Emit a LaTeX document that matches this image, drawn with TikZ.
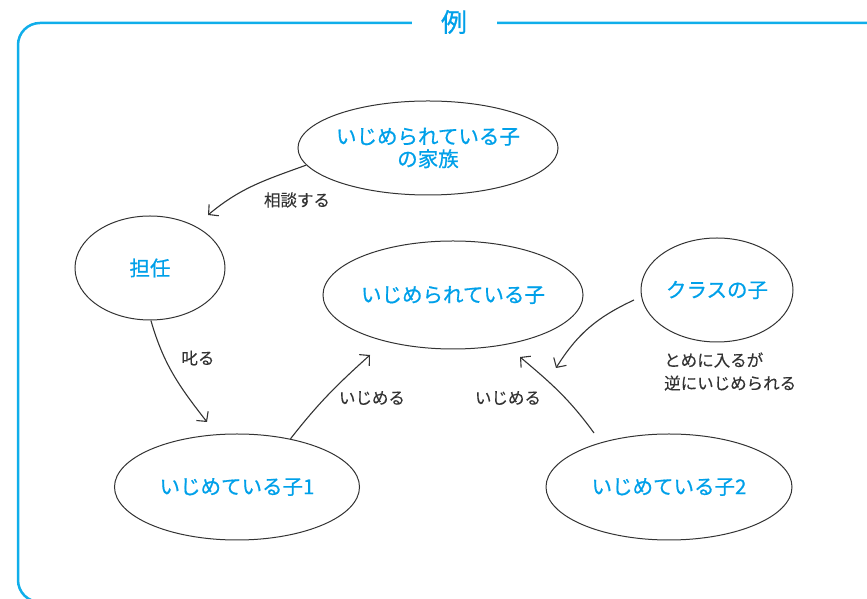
\documentclass[tikz,border=0pt]{standalone}
\usepackage{fontspec}
\setmainfont{Noto Sans CJK JP}
\newfontfamily\jpmed{Noto Sans CJK JP}[FakeBold=0.7]
\newfontfamily\jplab{Noto Sans CJK JP}[FakeBold=0.25]
\usetikzlibrary{shapes.geometric,arrows.meta,calc}
\definecolor{jblue}{HTML}{00A0E9}
\definecolor{frameblue}{HTML}{10AEEA}
\definecolor{ink}{HTML}{333333}
\tikzset{
  bub/.style={ellipse, draw=ink, line width=1pt, inner sep=0pt, text=jblue,
    font=\jpmed\fontsize{20.5}{23.5}\selectfont, align=center},
  lab/.style={text=ink, font=\jplab\fontsize{16.5}{23}\selectfont, inner sep=0pt},
  arr/.style={draw=ink, line width=1.1pt, -{Straight Barb[length=7pt,width=15pt]}}
}
\begin{document}
\begin{tikzpicture}[x=1pt,y=1pt]
\useasboundingbox (0,0) rectangle (867,599);
\begin{scope}
\clip (0,0) rectangle (867,599);
\draw[frameblue, line width=2.5pt, rounded corners=22pt] (18,-3) rectangle (900,576);
\end{scope}
\node[fill=white, minimum width=85pt, minimum height=20pt, inner sep=0pt, text=jblue,
  font=\jpmed\fontsize{26}{28}\selectfont] (title) at (454,577) {例};

\node[bub, minimum width=244pt, minimum height=94pt] (fam) at (428,451) {いじめられている子\\[-1pt]の家族};
\node[bub, minimum width=150pt, minimum height=104pt] (teach) at (150,331) {担任};
\node[bub, minimum width=244pt, minimum height=108pt] (vict) at (453,304) {いじめられている子};
\node[bub, minimum width=152pt, minimum height=104pt] (cls) at (717,309) {クラスの子};
\node[bub, minimum width=245pt, minimum height=106pt] (c1) at (237,112) {いじめている子1};
\node[bub, minimum width=246pt, minimum height=106pt] (c2) at (669,112) {いじめている子2};

\coordinate (e1) at (208,384);
\coordinate (e2) at (207,177);
\coordinate (e3) at (370,244);
\coordinate (s4) at (594,166);
\coordinate (e4) at (520,242);
\coordinate (s5) at (634,299);
\coordinate (e5) at (556,231);

\draw[arr] (fam.188) to[out=200, in=40] (e1);
\draw[arr] (teach.271) to[out=-74, in=128] (e2);
\draw[arr] (c1.42) to[out=52, in=222] (e3);
\draw[arr] (s4) to[out=126, in=-40] (e4);
\draw[arr] (s5) to[out=205, in=58] (e5);

\node[lab] (l1) at (297,399) {相談する};
\node[lab] (l2) at (198,241) {叱る};
\node[lab] (l3) at (372,201) {いじめる};
\node[lab] (l4) at (508,201) {いじめる};
\node[lab, align=left, anchor=west] (l5) at (664,227.5) {とめに入るが\\逆にいじめられる};
\end{tikzpicture}
\end{document}
